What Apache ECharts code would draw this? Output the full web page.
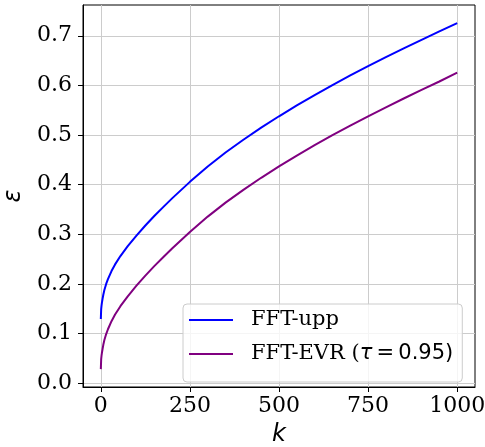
<!DOCTYPE html>
<html><head><meta charset="utf-8">
<script src="https://cdn.jsdelivr.net/npm/echarts@6/dist/echarts.min.js"></script>
<style>html,body{margin:0;padding:0;background:#fff}#c{width:485px;height:447px}</style>
</head><body><div id="c"></div>
<script>
const kValues = [0, 1, 2, 3, 5, 7, 10, 15, 20, 30, 40, 55, 75, 100, 125, 150, 175, 200, 250, 300, 350, 400, 450, 500, 550, 600, 650, 700, 750, 800, 850, 900, 950, 1000];
const fftUpp  = [0.129, 0.149, 0.156, 0.1615, 0.170, 0.178, 0.1877, 0.1997, 0.2094, 0.2257, 0.2391, 0.2559, 0.2753, 0.2973, 0.3176, 0.3366, 0.3546, 0.3722, 0.4055, 0.4365, 0.4646, 0.4904, 0.5147, 0.5377, 0.5595, 0.5804, 0.6006, 0.6200, 0.6387, 0.6568, 0.6745, 0.6918, 0.7088, 0.7255];
const fftEvr  = [0.028, 0.048, 0.055, 0.0605, 0.069, 0.077, 0.0867, 0.0987, 0.1084, 0.1247, 0.1381, 0.1549, 0.1743, 0.1963, 0.2166, 0.2356, 0.2536, 0.2712, 0.3045, 0.3355, 0.3636, 0.3894, 0.4137, 0.4367, 0.4585, 0.4794, 0.4996, 0.5190, 0.5377, 0.5558, 0.5735, 0.5908, 0.6078, 0.6255];
const xTicks = [0, 250, 500, 750, 1000];
const yTicks = [0, 0.1, 0.2, 0.3, 0.4, 0.5, 0.6, 0.7];
const seriesNames = ['FFT-upp', 'FFT-EVR (τ = 0.95)'];
const seriesColors = ['#0000ff', '#800080'];

const chart = echarts.init(document.getElementById('c'), null, {renderer: 'canvas'});
const serif = 'DejaVu Serif';
const sans = 'DejaVu Sans';

function pairs(ys) { return kValues.map((k, i) => [k, ys[i]]); }

const option = {
  animation: false,
  backgroundColor: '#ffffff',
  grid: {left: 83, right: 10, top: 5, bottom: 60, outerBoundsMode: 'none', containLabel: false, show: true, borderColor: '#000', borderWidth: 1, backgroundColor: 'transparent'},
  xAxis: {
    type: 'value', min: -50, max: 1050,
    name: 'k', nameLocation: 'middle', nameGap: 36,
    nameTextStyle: {fontFamily: sans, fontStyle: 'italic', fontSize: 24, color: '#000'},
    axisLine: {show: true, onZero: false, lineStyle: {color: '#000', width: 1}},
    axisTick: {show: true, inside: false, length: 5, customValues: xTicks, lineStyle: {color: '#000', width: 1}},
    axisLabel: {customValues: xTicks, margin: 8, fontFamily: serif, fontSize: 22, color: '#000', formatter: v => String(v)},
    splitLine: {show: true, lineStyle: {color: '#cccccc', width: 1}}
  },
  yAxis: {
    type: 'value', min: -0.008, max: 0.762,
    name: 'ε', nameLocation: 'middle', nameGap: 47, nameRotate: 90,
    nameTextStyle: {fontFamily: sans, fontStyle: 'italic', fontSize: 24, color: '#000'},
    axisLine: {show: true, onZero: false, lineStyle: {color: '#000', width: 1}},
    axisTick: {show: true, inside: false, length: 5, customValues: yTicks, lineStyle: {color: '#000', width: 1}},
    axisLabel: {customValues: yTicks, margin: 11, fontFamily: serif, fontSize: 22, color: '#000', formatter: v => v.toFixed(1)},
    splitLine: {show: true, lineStyle: {color: '#cccccc', width: 1}}
  },
  legend: {
    orient: 'vertical', left: 183, top: 304,
    padding: [3, 9, 15, 6], itemGap: 8,
    itemWidth: 44, itemHeight: 2,
    backgroundColor: 'rgba(255,255,255,0.8)', borderColor: '#cccccc', borderWidth: 1, borderRadius: 4,
    data: seriesNames.map(n => ({name: n, icon: 'rect'})),
    formatter: name => name === seriesNames[0] ? '{s|FFT-upp}' : '{s|FFT-EVR (}{m|τ}{n|\u2009=\u20090.95)}',
    textStyle: {
      fontSize: 21, color: '#000', lineHeight: 26, padding: [0, 0, 0, 13],
      rich: {
        s: {fontFamily: serif, fontSize: 21, color: '#000'},
        m: {fontFamily: sans, fontStyle: 'italic', fontSize: 21, color: '#000'},
        n: {fontFamily: sans, fontSize: 21, color: '#000'}
      }
    }
  },
  series: [
    {name: seriesNames[0], type: 'line', data: pairs(fftUpp), showSymbol: false, smooth: false, color: seriesColors[0], lineStyle: {width: 2, color: seriesColors[0]}},
    {name: seriesNames[1], type: 'line', data: pairs(fftEvr), showSymbol: false, smooth: false, color: seriesColors[1], lineStyle: {width: 2, color: seriesColors[1]}}
  ]
};
chart.setOption(option);
</script>
</body></html>
